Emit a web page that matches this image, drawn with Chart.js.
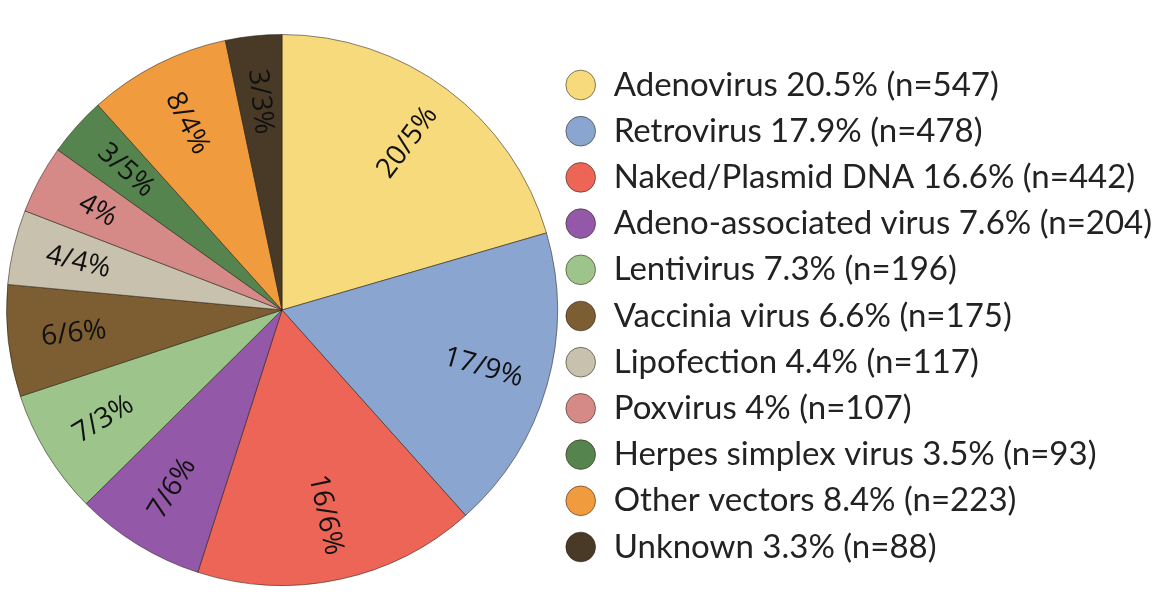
<!DOCTYPE html>
<html>
<head>
<meta charset="utf-8">
<script src="https://cdn.jsdelivr.net/npm/chart.js@4/dist/chart.umd.min.js"></script>
<style>
  html, body { margin: 0; padding: 0; background: #fff; }
  #wrap { width: 1158px; height: 612px; }
</style>
</head>
<body>
<div id="wrap"><canvas id="vectorChart"></canvas></div>
<script>
// Vector types used in gene therapy trials
const vectorNames = ['Adenovirus', 'Retrovirus', 'Naked/Plasmid DNA', 'Adeno-associated virus', 'Lentivirus',
    'Vaccinia virus', 'Lipofection', 'Poxvirus', 'Herpes simplex virus', 'Other vectors', 'Unknown'];
const trialCounts = [547, 478, 442, 204, 196, 175, 117, 107, 93, 223, 88];
const percentText = ['20.5%', '17.9%', '16.6%', '7.6%', '7.3%', '6.6%', '4.4%', '4%', '3.5%', '8.4%', '3.3%'];
// slice labels as printed on the pie
const sliceLabels = ['20/5%', '17/9%', '16/6%', '7/6%', '7/3%', '6/6%', '4/4%', '4%', '3/5%', '8/4%', '3/3%'];
const sliceColors = ['#f6da7b', '#8aa5cf', '#ec6556', '#9358a7', '#9cc48b', '#7d5e33',
    '#c8c1ad', '#d68a87', '#55844e', '#f19b3f', '#493a27'];

const legendLabels = vectorNames.map((name, i) => `${name} ${percentText[i]} (n=${trialCounts[i]})`);

// fix the legend width so the pie sits on the left like the original
const legendWidth = {
    id: 'legendWidth',
    beforeLayout(chart) {
        const legend = chart.legend;
        if (!legend || legend._fixedWidth) return;
        const origFit = legend.fit;
        legend.fit = function() {
            origFit.call(this);
            this.width = 600;
        };
        legend._fixedWidth = true;
    },
    afterLayout(chart) {
        // nudge the legend a little left and down
        const legend = chart.legend;
        legend.left -= 7;
        legend.right -= 7;
        legend.top += 6;
        legend.bottom += 6;
    }
};

// rotated labels along each slice's radius
const sliceText = {
    id: 'sliceText',
    afterDatasetsDraw(chart) {
        const ctx = chart.ctx;
        const meta = chart.getDatasetMeta(0);
        ctx.save();
        ctx.font = '28px "Open Sans", sans-serif';
        ctx.fillStyle = '#111';
        ctx.textAlign = 'center';
        ctx.textBaseline = 'middle';
        meta.data.forEach((arc, i) => {
            const p = arc.getProps(['x', 'y', 'startAngle', 'endAngle', 'outerRadius'], true);
            const mid = (p.startAngle + p.endAngle) / 2;
            const r = p.outerRadius * 0.76;
            const x = p.x + Math.cos(mid) * r;
            const y = p.y + Math.sin(mid) * r;
            let rot = mid;
            if (Math.cos(mid) < 0) rot += Math.PI;
            ctx.save();
            ctx.translate(x, y);
            ctx.rotate(rot);
            ctx.fillText(sliceLabels[i], 0, 0);
            ctx.restore();
        });
        ctx.restore();
    }
};

const ctx = document.getElementById('vectorChart').getContext('2d');
const vectorChart = new Chart(ctx, {
    type: 'pie',
    data: {
        labels: legendLabels,
        datasets: [{
            data: trialCounts,
            backgroundColor: sliceColors,
            borderColor: 'rgba(40, 30, 20, 0.55)',
            borderWidth: 1
        }]
    },
    options: {
        responsive: true,
        maintainAspectRatio: false,
        animation: false,
        layout: { padding: { left: 6, top: 34, bottom: 26, right: 0 } },
        plugins: {
            tooltip: { enabled: false },
            legend: {
                position: 'right',
                align: 'center',
                labels: {
                    usePointStyle: true,
                    pointStyle: 'circle',
                    boxWidth: 33,
                    boxHeight: 21,
                    padding: 13.2,
                    color: '#222',
                    font: { family: 'Lato, sans-serif', size: 33 }
                }
            }
        }
    },
    plugins: [legendWidth, sliceText]
});
</script>
</body>
</html>
